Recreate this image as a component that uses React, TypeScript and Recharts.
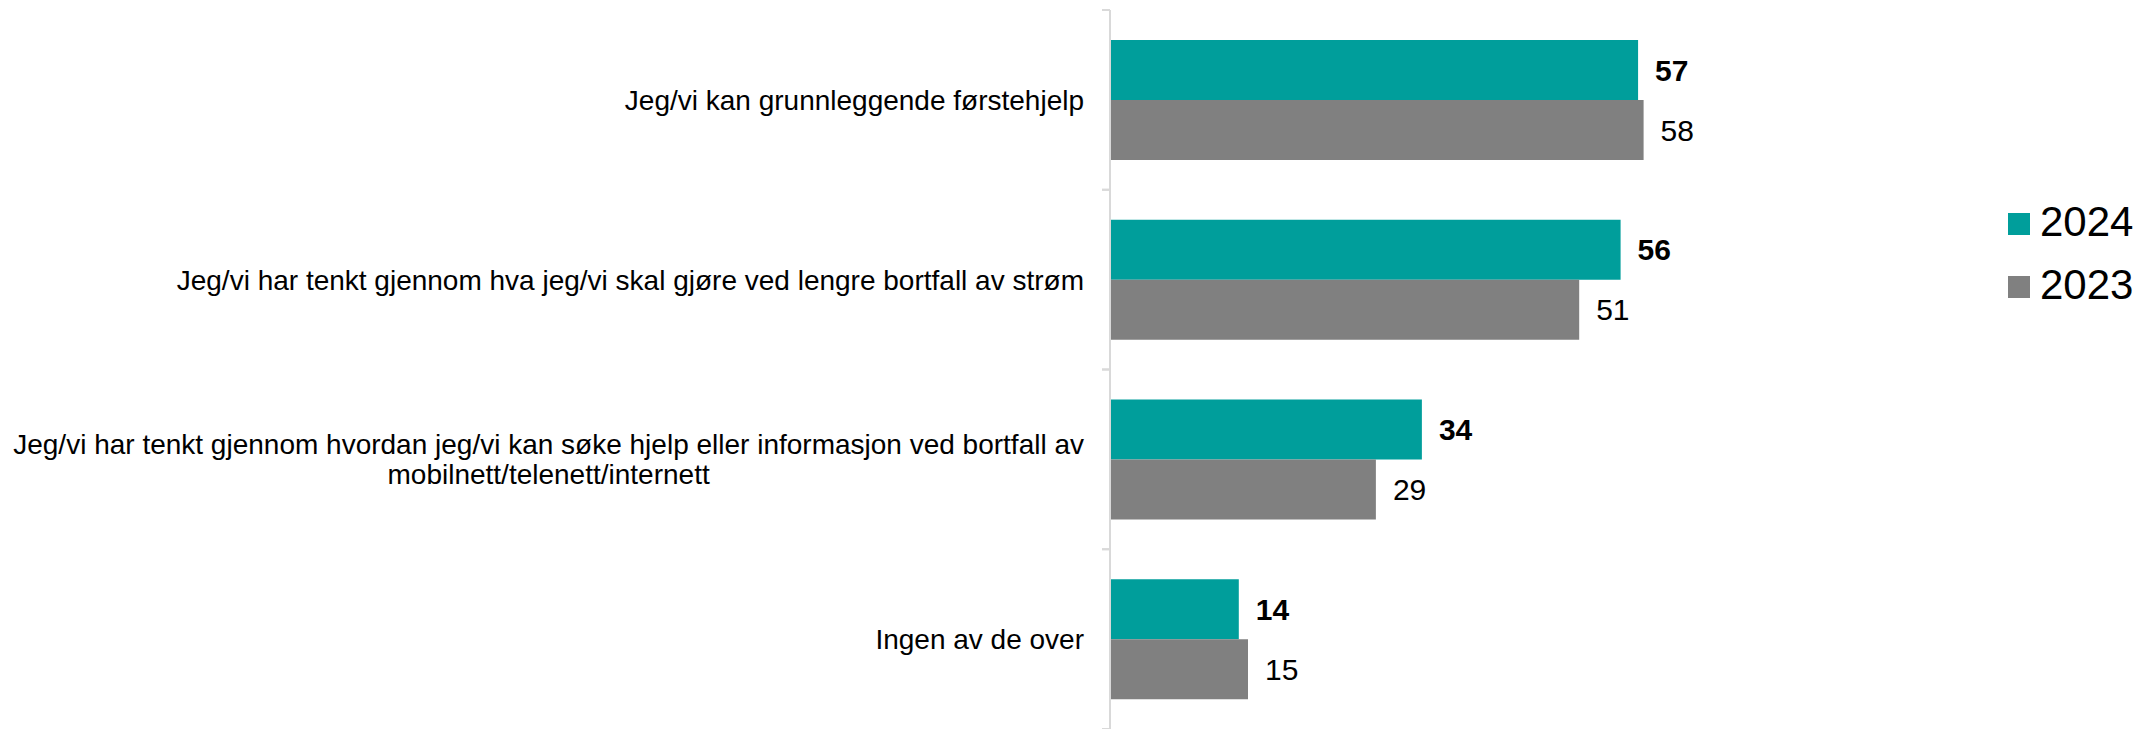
import React from 'react';
import { BarChart, Bar, XAxis, YAxis, LabelList } from 'recharts';

// categories top to bottom; "\n" marks where the long label wraps
const categories = [
  'Jeg/vi kan grunnleggende førstehjelp',
  'Jeg/vi har tenkt gjennom hva jeg/vi skal gjøre ved lengre bortfall av strøm',
  'Jeg/vi har tenkt gjennom hvordan jeg/vi kan søke hjelp eller informasjon ved bortfall av\nmobilnett/telenett/internett',
  'Ingen av de over',
];
// bar lengths (labels are rounded)
const values2024 = [57.4, 55.5, 33.9, 14];
const values2023 = [58, 51, 28.9, 15];
const seriesNames = ['2024', '2023'];
const seriesColors = ['#009e9b', '#808080'];

const FONT = '"Liberation Sans", Arial, sans-serif';
const LABEL_GAP = 26;
const TICK_FONT = 28;

const data = categories.map((c, i) => ({
  category: c,
  y2024: values2024[i],
  y2023: values2023[i],
}));

let ctx: CanvasRenderingContext2D | null = null;
function textWidth(text: string, size: number) {
  if (!ctx) ctx = document.createElement('canvas').getContext('2d');
  if (!ctx) return text.length * size * 0.5;
  ctx.font = `${size}px "Liberation Sans", Arial, sans-serif`;
  return ctx.measureText(text).width;
}

function CategoryTick(props: any) {
  const { x, y, payload } = props;
  const half = payload?.offset || 89.875;
  const axisX = x + LABEL_GAP;
  const lines = String(payload.value).split('\n');
  const maxW = Math.max(...lines.map((l) => textWidth(l, TICK_FONT)));
  const cx = x - maxW / 2;
  const lh = 30;
  const startY = y - ((lines.length - 1) * lh) / 2;
  return (
    <g>
      <line x1={axisX - 8} x2={axisX} y1={y - half} y2={y - half} stroke="#d9d9d9" strokeWidth={2} />
      <line x1={axisX - 8} x2={axisX} y1={y + half} y2={y + half} stroke="#d9d9d9" strokeWidth={2} />
      <text textAnchor="middle" fontSize={TICK_FONT} fontFamily={FONT} fill="#000">
        {lines.map((l, i) => (
          <tspan key={i} x={cx} y={startY + i * lh} dy="0.355em">
            {l}
          </tspan>
        ))}
      </text>
    </g>
  );
}

const fmt = (v: any) => Math.round(Number(v));

export default function App() {
  return (
    <div style={{ position: 'absolute', left: 0, top: 0, width: 2146, height: 729, fontFamily: FONT }}>
      <BarChart
        width={2146}
        height={729}
        data={data}
        layout="vertical"
        margin={{ top: 10, right: 116, bottom: 0, left: 0 }}
        barCategoryGap="16.7%"
        barGap={0}
      >
        <XAxis type="number" domain={[0, 100]} hide />
        <YAxis
          type="category"
          dataKey="category"
          width={1110}
          interval={0}
          tickSize={0}
          tickMargin={LABEL_GAP}
          tickLine={false}
          axisLine={{ stroke: '#d9d9d9', strokeWidth: 2 }}
          tick={(p: any) => <CategoryTick {...p} />}
        />
        <Bar dataKey="y2024" name={seriesNames[0]} fill={seriesColors[0]} isAnimationActive={false}>
          <LabelList
            dataKey="y2024"
            position="right"
            offset={17}
            formatter={fmt}
            fontSize={30}
            fontWeight="bold"
            fontFamily={FONT}
            fill="#000"
          />
        </Bar>
        <Bar dataKey="y2023" name={seriesNames[1]} fill={seriesColors[1]} isAnimationActive={false}>
          <LabelList
            dataKey="y2023"
            position="right"
            offset={17}
            formatter={fmt}
            fontSize={30}
            fontFamily={FONT}
            fill="#000"
          />
        </Bar>
      </BarChart>
      {seriesNames.map((name, i) => (
        <React.Fragment key={name}>
          <div
            style={{
              position: 'absolute',
              left: 2008,
              top: 213 + i * 63,
              width: 22,
              height: 22,
              background: seriesColors[i],
            }}
          />
          <div
            style={{
              position: 'absolute',
              left: 2040,
              top: 201 + i * 63,
              fontSize: 42,
              lineHeight: '42px',
              color: '#000',
            }}
          >
            {name}
          </div>
        </React.Fragment>
      ))}
    </div>
  );
}
